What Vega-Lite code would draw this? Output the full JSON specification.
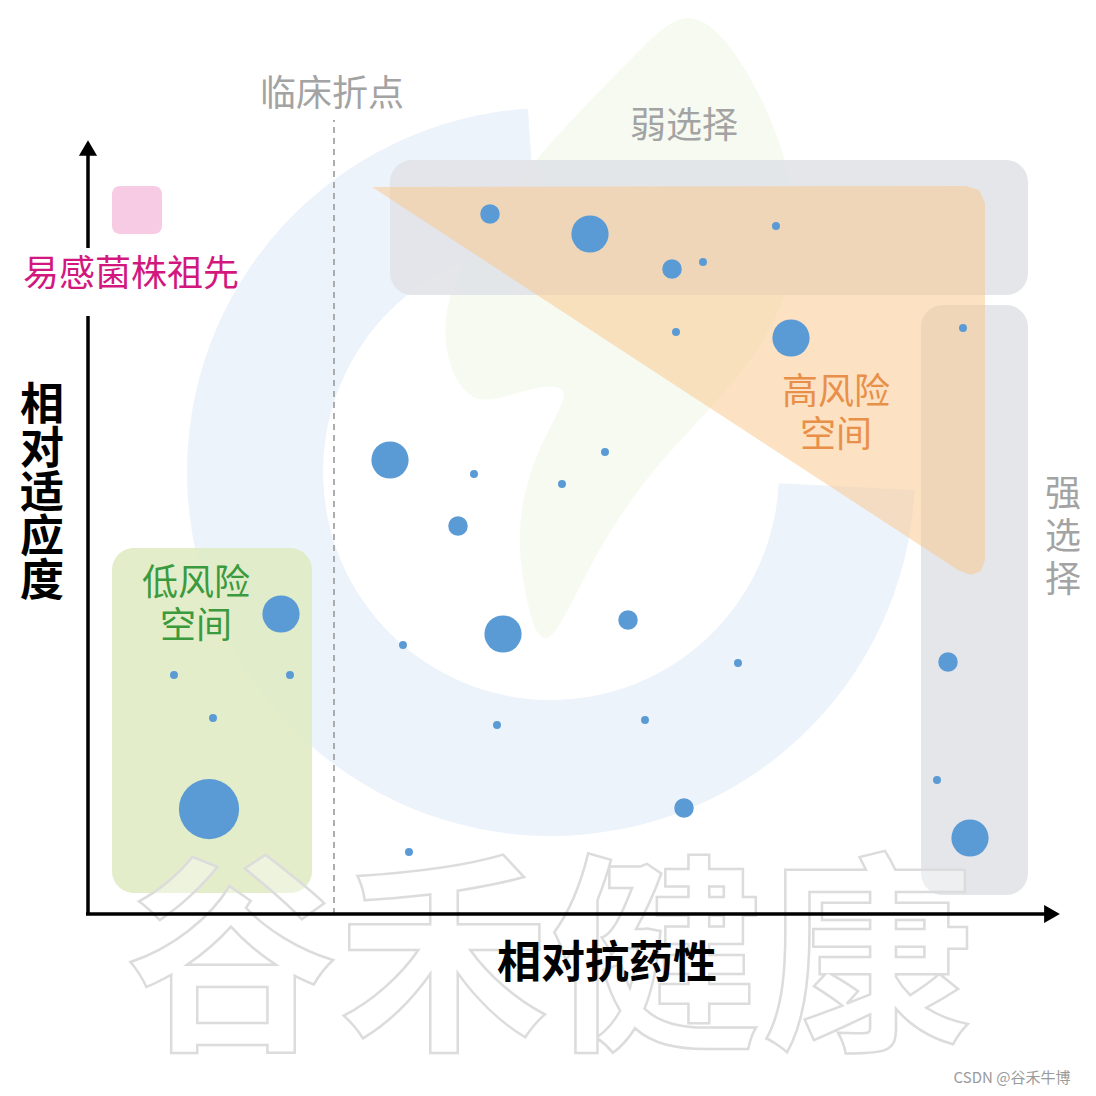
{
  "$schema": "https://vega.github.io/schema/vega-lite/v6.json",
  "width": 1096,
  "height": 1096,
  "autosize": "none",
  "padding": 0,
  "background": "#ffffff",
  "config": {"view": {"stroke": null}, "font": "Noto Sans CJK SC"},
  "datasets": {
    "ring": [{"x": 46.3, "y": 44.2}],
    "leaf": [
      {"i": 1, "x": 60.2, "y": 91.4},
      {"i": 2, "x": 65.7, "y": 85.4},
      {"i": 3, "x": 70.2, "y": 75.4},
      {"i": 4, "x": 71.2, "y": 66.4},
      {"i": 5, "x": 68.7, "y": 58.4},
      {"i": 6, "x": 63.2, "y": 51.4},
      {"i": 7, "x": 56.2, "y": 44.4},
      {"i": 8, "x": 50.2, "y": 35.4},
      {"i": 9, "x": 45.7, "y": 24.9},
      {"i": 10, "x": 43.7, "y": 31.4},
      {"i": 11, "x": 42.7, "y": 39.4},
      {"i": 12, "x": 45.2, "y": 47.4},
      {"i": 13, "x": 49.2, "y": 53.4},
      {"i": 14, "x": 43.2, "y": 52.4},
      {"i": 15, "x": 38.2, "y": 50.4},
      {"i": 16, "x": 35.2, "y": 56.4},
      {"i": 17, "x": 36.2, "y": 63.4},
      {"i": 18, "x": 41.2, "y": 71.4},
      {"i": 19, "x": 49.2, "y": 80.4},
      {"i": 20, "x": 55.2, "y": 86.4}
    ],
    "zones": [
      {"zone": "weak", "x": 30.2, "x2": 94.0, "y": 75.4, "y2": 61.9},
      {"zone": "strong", "x": 83.3, "x2": 94.0, "y": 60.9, "y2": 1.9},
      {"zone": "low", "x": 2.4, "x2": 22.4, "y": 36.6, "y2": 2.1},
      {"zone": "ancestor", "x": 2.4, "x2": 7.4, "y": 72.8, "y2": 68.0}
    ],
    "highrisk": [
      {"i": 1, "x": 28.4, "y": 72.7},
      {"i": 2, "x": 87.8, "y": 72.8},
      {"i": 3, "x": 89.1, "y": 72.4},
      {"i": 4, "x": 89.7, "y": 71.1},
      {"i": 5, "x": 89.7, "y": 35.4},
      {"i": 6, "x": 89.3, "y": 34.3},
      {"i": 7, "x": 88.3, "y": 33.9},
      {"i": 8, "x": 87.0, "y": 34.4}
    ],
    "axes": [
      {"x": 0, "y": 0, "x2": 0, "y2": 59.8},
      {"x": 0, "y": 66.6, "x2": 0, "y2": 76.6},
      {"x": -0.2, "y": 0, "x2": 96.4, "y2": 0}
    ],
    "arrows": [
      {"dir": "up", "x": 0, "y": 76.6},
      {"dir": "right", "x": 96.4, "y": 0}
    ],
    "breakpoint": [{"x": 24.6, "y": 0, "y2": 79.4}],
    "strains": [
      {"x": 40.2, "y": 70.0, "d": 22},
      {"x": 50.2, "y": 68.0, "d": 42},
      {"x": 58.4, "y": 64.5, "d": 22},
      {"x": 61.5, "y": 65.2, "d": 9},
      {"x": 68.8, "y": 68.8, "d": 9},
      {"x": 58.8, "y": 58.2, "d": 9},
      {"x": 70.3, "y": 57.6, "d": 42},
      {"x": 87.5, "y": 58.6, "d": 9},
      {"x": 30.2, "y": 45.4, "d": 42},
      {"x": 38.6, "y": 44.0, "d": 9},
      {"x": 51.7, "y": 46.2, "d": 9},
      {"x": 47.4, "y": 43.0, "d": 9},
      {"x": 37.0, "y": 38.8, "d": 22},
      {"x": 19.3, "y": 30.0, "d": 42},
      {"x": 41.5, "y": 28.0, "d": 42},
      {"x": 54.0, "y": 29.4, "d": 22},
      {"x": 31.5, "y": 26.9, "d": 9},
      {"x": 65.0, "y": 25.1, "d": 9},
      {"x": 8.6, "y": 23.9, "d": 9},
      {"x": 20.2, "y": 23.9, "d": 9},
      {"x": 86.0, "y": 25.2, "d": 22},
      {"x": 12.5, "y": 19.6, "d": 9},
      {"x": 40.9, "y": 18.9, "d": 9},
      {"x": 55.7, "y": 19.4, "d": 9},
      {"x": 12.1, "y": 10.5, "d": 68},
      {"x": 59.6, "y": 10.6, "d": 22},
      {"x": 84.9, "y": 13.4, "d": 9},
      {"x": 88.2, "y": 7.6, "d": 42},
      {"x": 32.1, "y": 6.2, "d": 9}
    ],
    "labels": [
      {"kind": "grey", "label": "临床折点", "x": 24.4, "y": 81.9},
      {"kind": "grey", "label": "弱选择", "x": 59.6, "y": 78.7},
      {"kind": "grey", "label": "强\n选\n择", "x": 97.5, "y": 41.9},
      {"kind": "high", "label": "高风险\n空间", "x": 74.8, "y": 52.1},
      {"kind": "low", "label": "低风险\n空间", "x": 10.8, "y": 33.0},
      {"kind": "ancestor", "label": "易感菌株祖先", "x": 4.3, "y": 63.9}
    ],
    "titles": [
      {"label": "相对抗药性", "x": 51.9, "y": -5.1},
      {"label": "相\n对\n适\n应\n度", "x": -4.6, "y": 50.7}
    ],
    "credit": [{"label": "CSDN @谷禾牛博", "x": 92.4, "y": -16.4}],
    "watermark": [{"label": "谷禾健康", "x": 46.2, "y": -5.6}]
  },
  "encoding": {
    "x": {"field": "x", "type": "quantitative", "scale": {"domain": [-8.8, 100.8], "nice": false, "zero": false}, "axis": null},
    "y": {"field": "y", "type": "quantitative", "scale": {"domain": [-18.2, 91.4], "nice": false, "zero": false}, "axis": null}
  },
  "layer": [
    {
      "data": {"name": "ring"},
      "mark": {"type": "arc", "theta": 1.62, "theta2": 6.22, "radius": 364, "radius2": 228, "color": "#edf3fb", "opacity": 1}
    },
    {
      "data": {"name": "leaf"},
      "mark": {"type": "line", "interpolate": "basis-closed", "fill": "#eef6e4", "fillOpacity": 0.5, "stroke": null, "strokeWidth": 0},
      "encoding": {"order": {"field": "i", "type": "quantitative"}}
    },
    {
      "data": {"name": "zones"},
      "transform": [{"filter": "datum.zone === 'weak' || datum.zone === 'strong'"}],
      "mark": {"type": "rect", "cornerRadius": 22, "color": "#e1e3e8", "opacity": 0.9},
      "encoding": {"x2": {"field": "x2"}, "y2": {"field": "y2"}}
    },
    {
      "data": {"name": "highrisk"},
      "mark": {"type": "line", "interpolate": "linear-closed", "fill": "#f9c88c", "fillOpacity": 0.52, "stroke": null, "strokeWidth": 0},
      "encoding": {"order": {"field": "i", "type": "quantitative"}}
    },
    {
      "data": {"name": "zones"},
      "transform": [{"filter": "datum.zone === 'low'"}],
      "mark": {"type": "rect", "cornerRadius": 22, "color": "#dfeac3", "opacity": 0.88},
      "encoding": {"x2": {"field": "x2"}, "y2": {"field": "y2"}}
    },
    {
      "data": {"name": "zones"},
      "transform": [{"filter": "datum.zone === 'ancestor'"}],
      "mark": {"type": "rect", "cornerRadius": 8, "color": "#f7cbe3"},
      "encoding": {"x2": {"field": "x2"}, "y2": {"field": "y2"}}
    },
    {
      "data": {"name": "watermark"},
      "mark": {"type": "text", "fontSize": 212, "fontWeight": "bold", "fill": "#ffffff", "fillOpacity": 0.35, "stroke": "#dcdcdc", "strokeWidth": 2.5, "align": "center", "baseline": "middle"},
      "encoding": {"text": {"field": "label"}}
    },
    {
      "data": {"name": "breakpoint"},
      "mark": {"type": "rule", "color": "#9a9a9a", "strokeWidth": 1.6, "strokeDash": [6, 5]},
      "encoding": {"y2": {"field": "y2"}}
    },
    {
      "data": {"name": "axes"},
      "mark": {"type": "rule", "color": "#000000", "strokeWidth": 3.5},
      "encoding": {"x2": {"field": "x2"}, "y2": {"field": "y2"}}
    },
    {
      "data": {"name": "arrows"},
      "mark": {"type": "point", "filled": true, "color": "#000000", "opacity": 1, "size": 330},
      "encoding": {
        "shape": {"field": "dir", "type": "nominal", "scale": {"domain": ["up", "right"], "range": ["triangle-up", "triangle-right"]}, "legend": null}
      }
    },
    {
      "data": {"name": "strains"},
      "mark": {"type": "circle", "color": "#5b9bd5", "opacity": 1},
      "encoding": {
        "size": {"field": "d", "type": "quantitative", "scale": {"type": "pow", "exponent": 2, "domain": [0, 68], "range": [0, 3630]}, "legend": null}
      }
    },
    {
      "data": {"name": "labels"},
      "mark": {"type": "text", "fontSize": 36, "lineBreak": "\n", "lineHeight": 43, "align": "center", "baseline": "middle"},
      "encoding": {
        "text": {"field": "label"},
        "color": {"field": "kind", "type": "nominal", "scale": {"domain": ["grey", "high", "low", "ancestor"], "range": ["#a3a3a3", "#e8904a", "#3c9a3e", "#d2187f"]}, "legend": null}
      }
    },
    {
      "data": {"name": "titles"},
      "mark": {"type": "text", "fontSize": 44, "fontWeight": "bold", "color": "#000000", "lineBreak": "\n", "lineHeight": 44, "align": "center", "baseline": "middle"},
      "encoding": {"text": {"field": "label"}}
    },
    {
      "data": {"name": "credit"},
      "mark": {"type": "text", "fontSize": 15, "color": "#9a9a9a", "align": "center", "baseline": "middle"},
      "encoding": {"text": {"field": "label"}}
    }
  ]
}
